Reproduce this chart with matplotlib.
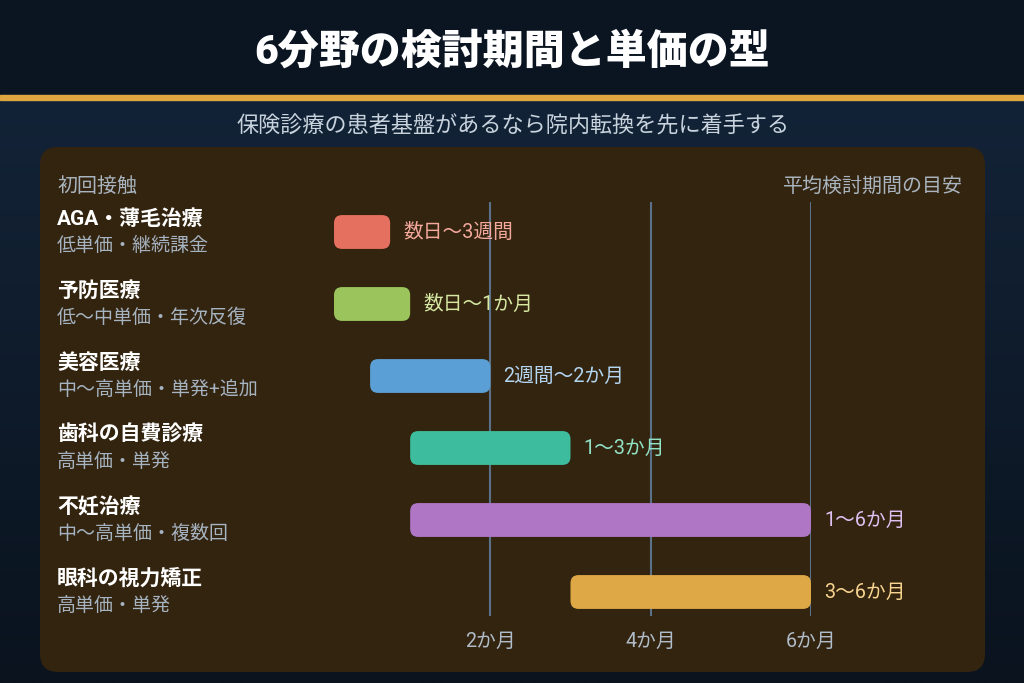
import matplotlib
matplotlib.use("Agg")
import matplotlib.pyplot as plt
import numpy as np
from matplotlib.patches import FancyBboxPatch, Rectangle
from matplotlib import transforms

plt.rcParams['font.family'] = ['Roboto', 'Noto Sans CJK JP', 'DejaVu Sans']

# ---------------- data ----------------
title = "6分野の検討期間と単価の型"
subtitle = "保険診療の患者基盤があるなら院内転換を先に着手する"
left_header = "初回接触"
right_header = "平均検討期間の目安"
categories = ["AGA・薄毛治療", "予防医療", "美容医療", "歯科の自費診療", "不妊治療", "眼科の視力矯正"]
sublabels = ["低単価・継続課金", "低〜中単価・年次反復", "中〜高単価・単発+追加",
             "高単価・単発", "中〜高単価・複数回", "高単価・単発"]
start_months = [0.05, 0.05, 0.5, 1.0, 1.0, 3.0]
end_months = [0.75, 1.0, 2.0, 3.0, 6.0, 6.0]
range_labels = ["数日〜3週間", "数日〜1か月", "2週間〜2か月", "1〜3か月", "1〜6か月", "3〜6か月"]
tick_values = [2, 4, 6]
tick_labels = ["2か月", "4か月", "6か月"]

bar_colors = ["#e57060", "#9bc45c", "#5a9fd6", "#3dbd9d", "#b076c6", "#dfa846"]
label_colors = ["#f5a99d", "#d6e8a2", "#b3d6f2", "#92e3c6", "#dfc0f2", "#f8d490"]

W, H = 1024, 683
fig = plt.figure(figsize=(W / 100, H / 100), dpi=100)

# background axes in pixel coordinates
bg = fig.add_axes([0, 0, 1, 1])
bg.set_xlim(0, W)
bg.set_ylim(H, 0)
bg.axis('off')

# body gradient
grad = np.linspace(0, 1, 256).reshape(-1, 1)
c1 = np.array([0x13, 0x23, 0x37]) / 255
c2 = np.array([0x0a, 0x13, 0x1e]) / 255
img = c1 + (c2 - c1) * grad[..., None]
bg.imshow(img, extent=[0, W, H, 100], aspect='auto', zorder=0)
bg.add_patch(Rectangle((0, 0), W, 95, color="#0b1522", zorder=1))
bg.add_patch(Rectangle((0, 95), W, 5, color="#dea640", zorder=2))
bg.set_xlim(0, W)
bg.set_ylim(H, 0)

# panel
bg.add_patch(FancyBboxPatch((40, 147), 945, 525,
                            boxstyle="round,pad=0,rounding_size=18",
                            facecolor="#33240f", edgecolor="none", zorder=2))

bg.text(W / 2, 52, title, ha='center', va='center', color='white',
        fontsize=29.5, fontweight='black', zorder=5)
bg.text(W / 2 + 1, 127, subtitle, ha='center', va='center', color='#c8d3de',
        fontsize=15.9, zorder=5)
bg.text(57, 186, left_header, ha='left', va='center', color='#a9b4bf',
        fontsize=14.4, zorder=5)
bg.text(963, 186, right_header, ha='right', va='center', color='#a9b4bf',
        fontsize=14.4, zorder=5)

# chart axes: x=0 at px 330, x=6 at px 811; rows centered at 232 + 72*i
ax = fig.add_axes([330 / W, (H - 628) / H, (811 - 330) / W, 432 / H])
ax.set_xlim(0, 6)
ax.set_ylim(5.5, -0.5)
ax.patch.set_alpha(0)
for s in ax.spines.values():
    s.set_visible(False)
ax.set_yticks([])
ax.set_xticks(tick_values)
ax.set_xticklabels(tick_labels, color='#b0bcc8', fontsize=14.2)
ax.tick_params(axis='x', length=0, pad=2.5)

ax.vlines(tick_values, -0.42, 5.33, colors='#5b7089', linewidth=1.5, zorder=1)

bar_h = 0.47
aspect = 80.17 / 72.0
for i, (s, e) in enumerate(zip(start_months, end_months)):
    p = FancyBboxPatch((s, i - bar_h / 2), e - s, bar_h,
                       boxstyle="round,pad=0,rounding_size=0.1",
                       mutation_aspect=aspect,
                       facecolor=bar_colors[i], edgecolor='none', zorder=3)
    ax.add_patch(p)
    ax.annotate(range_labels[i], xy=(e, i), xytext=(9.5, 0), textcoords='offset points',
                ha='left', va='center', color=label_colors[i], fontsize=14.2,
                annotation_clip=False, zorder=4)

trans = transforms.blended_transform_factory(bg.transData, ax.transData)
for i, (c, sl) in enumerate(zip(categories, sublabels)):
    ax.text(57, i - 13 / 72, c, transform=trans, ha='left', va='center',
            color='white', fontsize=15, fontweight='bold', clip_on=False)
    ax.text(57, i + 14 / 72, sl, transform=trans, ha='left', va='center',
            color='#a6b3c1', fontsize=13.7, clip_on=False)

fig.savefig("out.png", dpi=100)
